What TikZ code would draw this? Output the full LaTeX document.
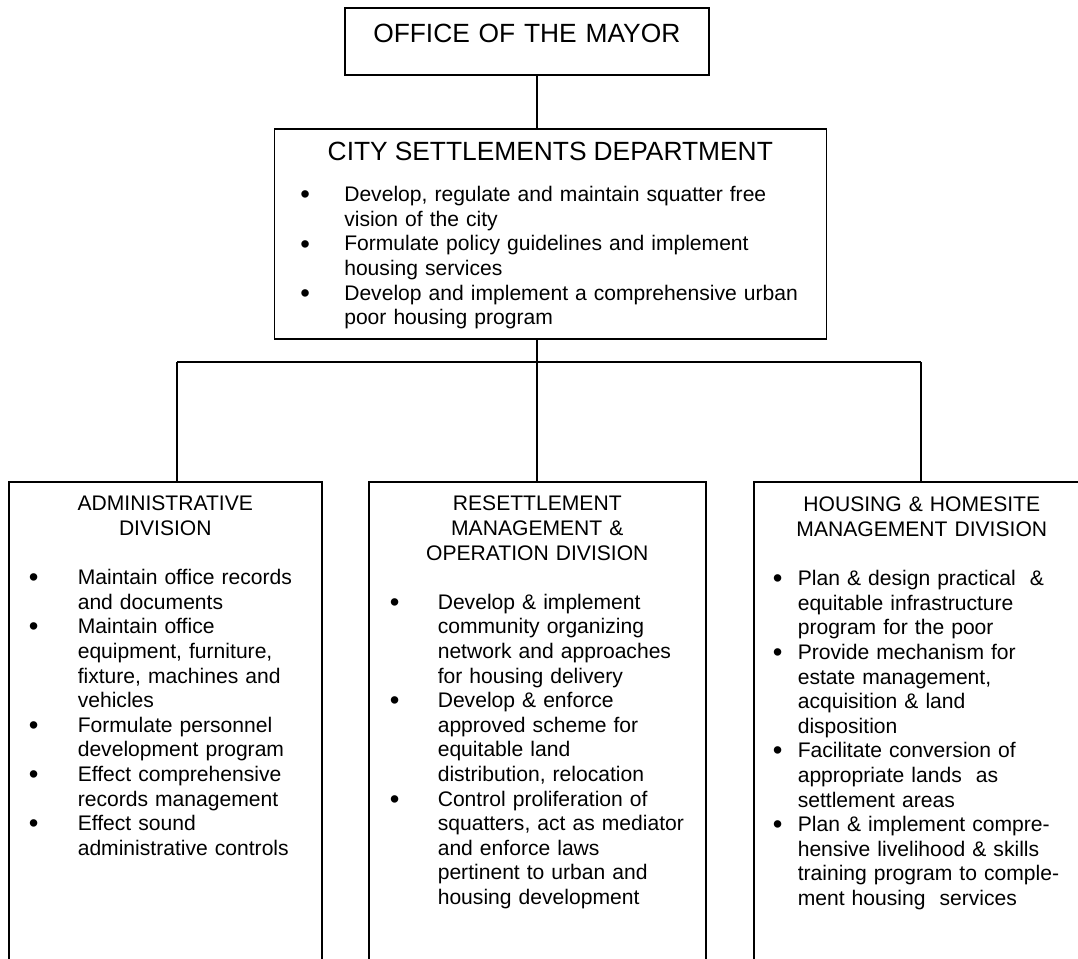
\documentclass[tikz,border=0pt]{standalone}
\usepackage{fontspec}
\setmainfont{Liberation Sans}

% bullet column and text column of the duty lists
\newlength{\dotin}
\newlength{\textin}
\newcommand{\bigdot}{\raisebox{-0.1em}{\scalebox{1.3}{\textbullet}}}
\newcommand{\duty}[1]{\noindent\hspace*{\dotin}\makebox[\dimexpr\textin-\dotin\relax][l]{\bigdot}#1}
\newcommand{\cont}[1]{\noindent\hspace*{\textin}#1}
\newcommand{\head}[1]{\noindent\makebox[\hsize][c]{#1}}

\begin{document}
\begin{tikzpicture}[
    unit/.style={draw, line width=0.9pt, inner sep=0pt, anchor=north west,
        align=left, font=\fontsize{12}{14}\selectfont},
    indents/.style 2 args={execute at begin node={\setlength{\dotin}{#1}\setlength{\textin}{#2}}},
    link/.style={line width=0.6pt}
]
\useasboundingbox (0,0) rectangle (21.56,-19.16);

% Top: mayor and department
\node[unit, align=center, text width=7.28cm, text height=0.7cm, text depth=0.64cm,
    font=\fontsize{15}{18}\selectfont] (mayor) at (6.88,-0.14) {OFFICE OF THE MAYOR};

\node[unit, text width=11.04cm, text height=0.64cm, text depth=3.56cm,
    indents={0.52cm}{1.4cm}] (city) at (5.47,-2.56) {%
    \head{\fontsize{15}{18}\selectfont CITY SETTLEMENTS DEPARTMENT}\\[9.3pt]
    \duty{Develop, regulate and maintain squatter free}\\
    \cont{vision of the city}\\
    \duty{Formulate policy guidelines and implement}\\
    \cont{housing services}\\
    \duty{Develop and implement a comprehensive urban}\\
    \cont{poor housing program}};

% Bottom row: the three divisions
\node[unit, text width=6.26cm, text height=0.58cm, text depth=10cm,
    indents={0.40cm}{1.38cm}] (admin) at (0.16,-9.62) {%
    \head{ADMINISTRATIVE}\\
    \head{DIVISION}\\[14pt]
    \duty{Maintain office records}\\
    \cont{and documents}\\
    \duty{Maintain office}\\
    \cont{equipment, furniture,}\\
    \cont{fixture, machines and}\\
    \cont{vehicles}\\
    \duty{Formulate personnel}\\
    \cont{development program}\\
    \duty{Effect comprehensive}\\
    \cont{records management}\\
    \duty{Effect sound}\\
    \cont{administrative controls}};

\node[unit, text width=6.74cm, text height=0.58cm, text depth=10cm,
    indents={0.42cm}{1.38cm}] (resettle) at (7.36,-9.62) {%
    \head{RESETTLEMENT}\\
    \head{MANAGEMENT \&}\\
    \head{OPERATION DIVISION}\\[14pt]
    \duty{Develop \& implement}\\
    \cont{community organizing}\\
    \cont{network and approaches}\\
    \cont{for housing delivery}\\
    \duty{Develop \& enforce}\\
    \cont{approved scheme for}\\
    \cont{equitable land}\\
    \cont{distribution, relocation}\\
    \duty{Control proliferation of}\\
    \cont{squatters, act as mediator}\\
    \cont{and enforce laws}\\
    \cont{pertinent to urban and}\\
    \cont{housing development}};

\node[unit, text width=6.72cm, text height=0.6cm, text depth=10cm,
    indents={0.38cm}{0.88cm}] (housing) at (15.06,-9.62) {%
    \head{HOUSING \& HOMESITE}\\
    \head{MANAGEMENT DIVISION}\\[14pt]
    \duty{Plan \& design practical\ \ \&}\\
    \cont{equitable infrastructure}\\
    \cont{program for the poor}\\
    \duty{Provide mechanism for}\\
    \cont{estate management,}\\
    \cont{acquisition \& land}\\
    \cont{disposition}\\
    \duty{Facilitate conversion of}\\
    \cont{appropriate lands\ \ as}\\
    \cont{settlement areas}\\
    \duty{Plan \& implement compre-}\\
    \cont{hensive livelihood \& skills}\\
    \cont{training program to comple-}\\
    \cont{ment housing\ \ services}};

% Connectors
\coordinate (bus) at (10.74,-7.24);
\coordinate (busl) at (3.54,-7.24);
\coordinate (busr) at (18.42,-7.24);

\draw[link] (mayor.south -| bus) -- (city.north -| bus);
\draw[link] (city.south -| bus) -- (resettle.north -| bus);
\draw[link] (busl) -- (busr);
\draw[link] (busl) -- (admin.north -| busl);
\draw[link] (busr) -- (housing.north -| busr);

\end{tikzpicture}
\end{document}
